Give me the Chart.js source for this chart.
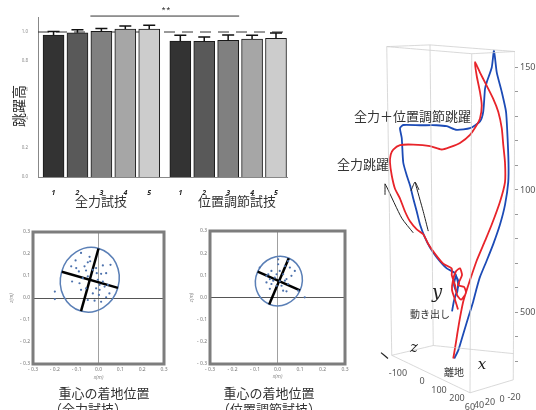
<!DOCTYPE html>
<html>
<head>
<meta charset="utf-8">
<script src="https://cdn.jsdelivr.net/npm/chart.js@4.4.0/dist/chart.umd.min.js"></script>
<style>
body { margin: 0; background: #fff; }
#wrap { position: relative; width: 536px; height: 410px; overflow: hidden; font-family: "Noto Sans CJK JP", "Noto Sans", sans-serif; color: #333; }
canvas { position: absolute; }
.t { position: absolute; white-space: nowrap; line-height: 1; transform: translate(-50%, -50%); }
.l { position: absolute; white-space: nowrap; line-height: 1; transform: translateY(-50%); }
.ax { font-family: "DejaVu Serif", "Liberation Serif", serif; font-style: italic; color: #222; }
.num { font-family: "Noto Sans", sans-serif; font-size: 9px; color: #555; }
</style>
</head>
<body>
<div id="wrap">
  <canvas id="barChart" width="300" height="215" style="left:0;top:0"></canvas>
  <canvas id="landFull" width="175" height="188" style="left:0;top:222px"></canvas>
  <canvas id="landCtrl" width="180" height="188" style="left:172px;top:222px"></canvas>
  <canvas id="trackChart" width="206" height="410" style="left:330px;top:0"></canvas>

  <div class="t" style="left:166px;top:11px;font-size:10px;color:#444">**</div>
  <div class="t" style="left:18px;top:106px;font-size:14px;transform:translate(-50%,-50%) rotate(-90deg)">跳躍高</div>
  <div class="t" style="left:101px;top:200px;font-size:13px">全力試技</div>
  <div class="t" style="left:237px;top:200px;font-size:13px">位置調節試技</div>

  <div class="t" style="left:104px;top:392px;font-size:13px">重心の着地位置</div>
  <div class="t" style="left:88px;top:408px;font-size:13px">（全力試技）</div>
  <div class="t" style="left:269px;top:392px;font-size:13px">重心の着地位置</div>
  <div class="t" style="left:269px;top:408px;font-size:13px">（位置調節試技）</div>

  <div class="l" style="left:354px;top:115px;font-size:13px">全力＋位置調節跳躍</div>
  <div class="l" style="left:337px;top:163px;font-size:13px">全力跳躍</div>
  <div class="l" style="left:410px;top:314px;font-size:10px">動き出し</div>
  <div class="l" style="left:444px;top:372px;font-size:10px">離地</div>
  <div class="t ax" style="left:437px;top:292px;font-size:18px">y</div>
  <div class="t ax" style="left:414px;top:347px;font-size:15px">z</div>
  <div class="t ax" style="left:482px;top:364px;font-size:15px">x</div>
  <div class="t num" style="left:398px;top:372px">-100</div>
  <div class="t num" style="left:422px;top:380px">0</div>
  <div class="t num" style="left:439px;top:389px">100</div>
  <div class="t num" style="left:457px;top:397px">200</div>
  <div class="t num" style="left:470px;top:406px">60</div>
  <div class="t num" style="left:479px;top:404px">40</div>
  <div class="t num" style="left:490px;top:401px">20</div>
  <div class="t num" style="left:502px;top:398px">0</div>
  <div class="t num" style="left:514px;top:396px">-20</div>
</div>

<script>
// ---- jump height bars ----
const barLabels = ['1', '2', '3', '4', '5', '1', '2', '3', '4', '5'];
const barPos = [1, 2, 3, 4, 5, 6.3, 7.3, 8.3, 9.3, 10.3];
const fullHeight = [0.979, 0.995, 1.005, 1.02, 1.02];
const fullErr = [0.025, 0.02, 0.02, 0.022, 0.026];
const ctrlHeight = [0.938, 0.936, 0.943, 0.952, 0.956];
const ctrlErr = [0.04, 0.03, 0.036, 0.025, 0.037];
const barColors = ['#333333', '#595959', '#808080', '#a6a6a6', '#cccccc'];
const heightTicks = [0, 0.2, 0.4, 0.6, 0.8, 1.0];
const sigSpan = [2.54, 8.76];
const sigLevel = 1.11;

// ---- landing positions (m) ----
const landFull = [
    [-0.08, 0.205], [-0.105, 0.171], [-0.049, 0.162], [-0.038, 0.167], [-0.125, 0.144],
    [-0.011, 0.136], [0.02, 0.148], [0.055, 0.151], [-0.09, 0.121], [-0.057, 0.125],
    [-0.026, 0.128], [-0.008, 0.113], [0.012, 0.11], [0.035, 0.113], [-0.121, 0.075],
    [-0.072, 0.09], [-0.049, 0.098], [-0.003, 0.083], [0.02, 0.075], [0.043, 0.06],
    [-0.08, 0.037], [-0.057, 0.044], [-0.011, 0.044], [0.005, 0.037], [0.028, 0.052],
    [-0.026, 0.021], [0.002, 0.014], [0.035, 0.003], [-0.049, -0.009], [-0.018, -0.012],
    [0.012, -0.017], [0.05, 0.021], [-0.2, 0.029], [-0.2, -0.005], [-0.102, 0.136],
    [-0.064, 0.144], [-0.041, 0.187], [0.005, 0.06], [-0.087, 0.067]
];
const landCtrl = [
    [0.003, 0.15], [0.033, 0.142], [0.055, 0.135], [-0.027, 0.12], [0.01, 0.12],
    [0.025, 0.105], [-0.049, 0.098], [-0.034, 0.083], [-0.012, 0.09], [0.04, 0.083],
    [0.062, 0.098], [0.077, 0.12], [-0.049, 0.068], [-0.027, 0.061], [-0.004, 0.053],
    [0.018, 0.053], [0.047, 0.061], [-0.034, 0.039], [0.025, 0.031], [0.04, 0.028],
    [0.092, 0.031], [0.121, 0.001], [0.01, 0.073], [-0.019, 0.076], [-0.079, 0.135],
    [0.047, 0.164], [0.003, 0.172], [0.033, 0.076], [-0.041, 0.105], [-0.004, 0.105]
];
// [centre x, centre z, minor radius, major radius, tilt deg]
const ellipseFull = [-0.04, 0.083, 0.134, 0.148, 16];
const ellipseCtrl = [0.006, 0.074, 0.103, 0.113, 24];
const majorFull = [[0.0, 0.225], [-0.08, -0.06]];
const minorFull = [[-0.168, 0.119], [0.089, 0.046]];
const majorCtrl = [[0.05, 0.177], [-0.037, -0.032]];
const minorCtrl = [[-0.088, 0.117], [0.1, 0.032]];
const posTicks = [-0.3, -0.2, -0.1, 0, 0.1, 0.2, 0.3];

// ---- centre of mass tracks (projected, mm) ----
const redTrack = [
    [285, 512], [273, 552], [261, 592], [265, 632], [277, 668], [293, 680], [301, 652], [285, 612],
    [309, 604], [317, 580], [297, 552], [281, 572], [273, 612], [260, 652], [260, 679],
    [226, 699], [193, 739], [166, 779], [146, 819], [120, 839], [93, 872], [73, 912], [53, 965],
    [33, 1005], [20, 1059], [13, 1112], [16, 1145], [26, 1165], [53, 1183], [106, 1185], [173, 1179],
    [220, 1165], [253, 1175], [293, 1192], [333, 1225], [360, 1265], [373, 1292], [380, 1345],
    [373, 1399], [360, 1465], [353, 1521],
    [373, 1479], [393, 1439], [426, 1372], [446, 1319], [460, 1252], [466, 1185], [473, 1112],
    [473, 1032], [453, 952], [420, 859], [393, 792], [360, 712], [333, 632], [320, 592],
    [306, 545], [293, 479], [282, 412], [277, 379], [266, 312]
];
const blueTrack = [
    [261, 504], [269, 548], [281, 588], [289, 620], [277, 648], [269, 612], [281, 580], [285, 620],
    [273, 660], [240, 680], [200, 725], [173, 765], [153, 805], [133, 859], [120, 912], [106, 965],
    [93, 1019], [80, 1059], [66, 1112], [60, 1212], [53, 1252], [66, 1265], [133, 1264], [200, 1264],
    [240, 1260], [280, 1245], [333, 1252], [373, 1280], [386, 1320], [393, 1412], [400, 1440],
    [420, 1500], [429, 1568],
    [440, 1480], [460, 1400], [477, 1320], [482, 1240], [487, 1112], [486, 1032], [473, 939],
    [453, 859], [426, 779], [400, 712], [373, 645], [360, 600], [346, 545], [326, 479],
    [306, 412], [286, 345], [270, 312]
];
const arrowUpLeft = [[-7, 1025], [0, 1012], [60, 885], [106, 825]];
const arrowUpLeftHead = [[-7, 1025], [-7, 980]];
const arrowUp = [[113, 1032], [146, 912], [166, 832]];
const arrowUpHead = [[97, 996], [113, 1032], [129, 1000]];
const boxEdges = [
    [[0, 1585], [173, 1592]], [[173, 1592], [513, 1565]], [[0, 1585], [340, 1556]], [[340, 1556], [513, 1565]],
    [[0, 1585], [20, 325]], [[173, 1592], [186, 365]], [[340, 1556], [333, 172]], [[513, 1565], [506, 225]],
    [[20, 325], [186, 365]], [[186, 365], [506, 332]], [[20, 325], [333, 172]], [[333, 172], [506, 225]]
];
const zMarker = [[-23, 336], [5, 312]];
const trackTicks = [300, 400, 500, 600, 700, 800, 900, 1000, 1100, 1200, 1300, 1400, 1500];
const trackLabels = [500, 1000, 1500];

const pts = arr => arr.map(p => ({ x: p[0], y: p[1] }));

// error bars + significance line
const errorBars = {
    id: 'errorBars',
    afterDatasetsDraw(chart) {
        const { ctx, scales: { x, y } } = chart;
        const vals = fullHeight.concat(ctrlHeight);
        const errs = fullErr.concat(ctrlErr);
        ctx.save();
        ctx.strokeStyle = '#111';
        ctx.lineWidth = 1.5;
        barPos.forEach((p, i) => {
            const px = x.getPixelForValue(p);
            const y0 = y.getPixelForValue(vals[i]);
            const y1 = y.getPixelForValue(vals[i] + errs[i]);
            ctx.beginPath();
            ctx.moveTo(px, y0);
            ctx.lineTo(px, y1);
            ctx.moveTo(px - 6, y1);
            ctx.lineTo(px + 6, y1);
            ctx.stroke();
        });
        const sy = y.getPixelForValue(sigLevel);
        ctx.lineWidth = 1;
        ctx.strokeStyle = '#333';
        ctx.beginPath();
        ctx.moveTo(x.getPixelForValue(sigSpan[0]), sy);
        ctx.lineTo(x.getPixelForValue(sigSpan[1]), sy);
        ctx.stroke();
        ctx.restore();
    }
};

new Chart(document.getElementById('barChart'), {
    type: 'bar',
    data: {
        datasets: [{
            data: barPos.map((p, i) => ({ x: p, y: i < 5 ? fullHeight[i] : ctrlHeight[i - 5] })),
            backgroundColor: barColors.concat(barColors),
            borderColor: '#1a1a1a',
            borderWidth: 1,
            barThickness: 21,
            order: 1
        }, {
            type: 'line',
            data: [{ x: 0.35, y: 1 }, { x: 10.76, y: 1 }],
            borderColor: '#333',
            borderWidth: 1,
            borderDash: [11, 7],
            pointRadius: 0,
            order: 2
        }]
    },
    options: {
        responsive: false,
        animation: false,
        layout: { padding: { top: 17.5, right: 13, left: 0, bottom: 0 } },
        plugins: { legend: { display: false }, tooltip: { enabled: false } },
        scales: {
            x: {
                type: 'linear',
                offset: false,
                min: 0.35,
                max: 10.76,
                afterBuildTicks: s => { s.ticks = barPos.map(v => ({ value: v })); },
                afterFit: s => { s.height = 38; },
                grid: { display: false },
                border: { color: '#888' },
                ticks: {
                    autoSkip: false,
                    maxRotation: 0,
                    padding: 4,
                    color: '#222',
                    font: { size: 7, style: 'italic', weight: 'bold', family: 'Noto Sans' },
                    callback: (v, i) => barLabels[i]
                }
            },
            y: {
                min: 0,
                max: 1.1,
                afterBuildTicks: s => { s.ticks = heightTicks.map(v => ({ value: v })); },
                afterFit: s => { s.width = 38; },
                grid: { display: false },
                border: { color: '#888' },
                ticks: {
                    padding: 2,
                    color: '#888',
                    font: { size: 4.5, family: 'Noto Sans' },
                    callback: v => v.toFixed(1)
                }
            }
        }
    },
    plugins: [errorBars]
});

// landing scatter charts
const frameAndEllipse = {
    id: 'frameAndEllipse',
    beforeDatasetsDraw(chart) {
        const { ctx, scales: { x, y } } = chart;
        const e = chart.options.plugins.frameAndEllipse.ellipse;
        const kx = Math.abs(x.getPixelForValue(1) - x.getPixelForValue(0));
        const ky = Math.abs(y.getPixelForValue(1) - y.getPixelForValue(0));
        ctx.save();
        ctx.strokeStyle = '#5a7fb6';
        ctx.lineWidth = 1.5;
        ctx.beginPath();
        ctx.ellipse(x.getPixelForValue(e[0]), y.getPixelForValue(e[1]), e[2] * kx, e[3] * ky, e[4] * Math.PI / 180, 0, Math.PI * 2);
        ctx.stroke();
        ctx.restore();
    },
    afterDraw(chart) {
        const { ctx, chartArea: a } = chart;
        ctx.save();
        ctx.strokeStyle = '#7d7d7d';
        ctx.lineWidth = 3;
        ctx.strokeRect(a.left, a.top, a.right - a.left, a.bottom - a.top);
        ctx.restore();
    }
};

function tickText(v) {
    if (Math.abs(v) < 1e-9) return '0.0';
    return v < 0 ? '- ' + Math.abs(v).toFixed(1) : v.toFixed(1);
}

function landingChart(id, points, ell, major, minor, pad, yWidth, yTitlePad, xTitlePad) {
    const axis = (title, isY) => ({
        min: -0.3,
        max: 0.3,
        afterBuildTicks: s => { s.ticks = posTicks.map(v => ({ value: v })); },
        afterFit: s => { if (isY) s.width = yWidth; else s.height = 46; },
        border: { display: false },
        grid: {
            drawTicks: false,
            lineWidth: 1,
            color: c => Math.abs(c.tick.value) < 1e-9 ? (isY ? '#555' : '#a0a0a0') : 'rgba(0,0,0,0)'
        },
        ticks: { padding: 3, color: '#777', font: { size: 5, family: 'Noto Sans' }, callback: v => tickText(v) },
        title: {
            display: true,
            text: title,
            color: '#888',
            font: { size: 5, style: 'italic', family: 'Noto Sans' },
            padding: isY ? { top: yTitlePad, bottom: 0 } : { top: 0, bottom: xTitlePad }
        }
    });
    new Chart(document.getElementById(id), {
        type: 'scatter',
        data: {
            datasets: [{
                data: pts(points),
                pointRadius: 1.1,
                pointBorderWidth: 0,
                backgroundColor: '#4d72ad'
            }, {
                data: pts(major),
                showLine: true,
                borderColor: '#000',
                borderWidth: 2.5,
                pointRadius: 0
            }, {
                data: pts(minor),
                showLine: true,
                borderColor: '#000',
                borderWidth: 2.5,
                pointRadius: 0
            }]
        },
        options: {
            responsive: false,
            animation: false,
            layout: { padding: pad },
            plugins: {
                legend: { display: false },
                tooltip: { enabled: false },
                frameAndEllipse: { ellipse: ell }
            },
            scales: { x: axis('x(m)', false), y: axis('z(m)', true) }
        },
        plugins: [frameAndEllipse]
    });
}

landingChart('landFull', landFull, ellipseFull, majorFull, minorFull,
    { top: 10, right: 11, left: 0, bottom: 0 }, 33, 9, 29);
landingChart('landCtrl', landCtrl, ellipseCtrl, majorCtrl, minorCtrl,
    { top: 9, right: 7, left: 0, bottom: 0 }, 38, 17, 30);

// centre of mass trajectories
const lineSet = (arr, color, width) => ({
    data: pts(arr),
    showLine: true,
    borderColor: color,
    borderWidth: width,
    pointRadius: 0,
    tension: 0.2
});

new Chart(document.getElementById('trackChart'), {
    type: 'scatter',
    data: {
        datasets: boxEdges.map(e => lineSet(e, '#cfcfcf', 0.8))
            .concat([
                lineSet(zMarker, '#222', 1.2),
                lineSet(arrowUpLeft, '#222', 1),
                lineSet(arrowUpLeftHead, '#222', 1),
                lineSet(arrowUp, '#222', 1),
                lineSet(arrowUpHead, '#222', 1),
                lineSet(redTrack, '#e8242a', 1.8),
                lineSet(blueTrack, '#1c4bb6', 1.8)
            ])
    },
    options: {
        responsive: false,
        animation: false,
        layout: { padding: { top: 40, right: 0, left: 0, bottom: 0 } },
        plugins: { legend: { display: false }, tooltip: { enabled: false } },
        scales: {
            x: { display: false, min: -227, max: 513 },
            y: {
                position: 'right',
                min: 132,
                max: 1612,
                afterBuildTicks: s => { s.ticks = trackTicks.map(v => ({ value: v })); },
                afterFit: s => { s.width = 21; },
                border: { display: false },
                grid: { drawOnChartArea: false, drawTicks: true, tickLength: 3, color: '#999' },
                ticks: {
                    autoSkip: false,
                    padding: 2,
                    color: '#555',
                    font: { size: 9, family: 'Noto Sans' },
                    callback: v => trackLabels.includes(v) ? String(v) : ''
                }
            }
        }
    }
});
</script>
</body>
</html>
